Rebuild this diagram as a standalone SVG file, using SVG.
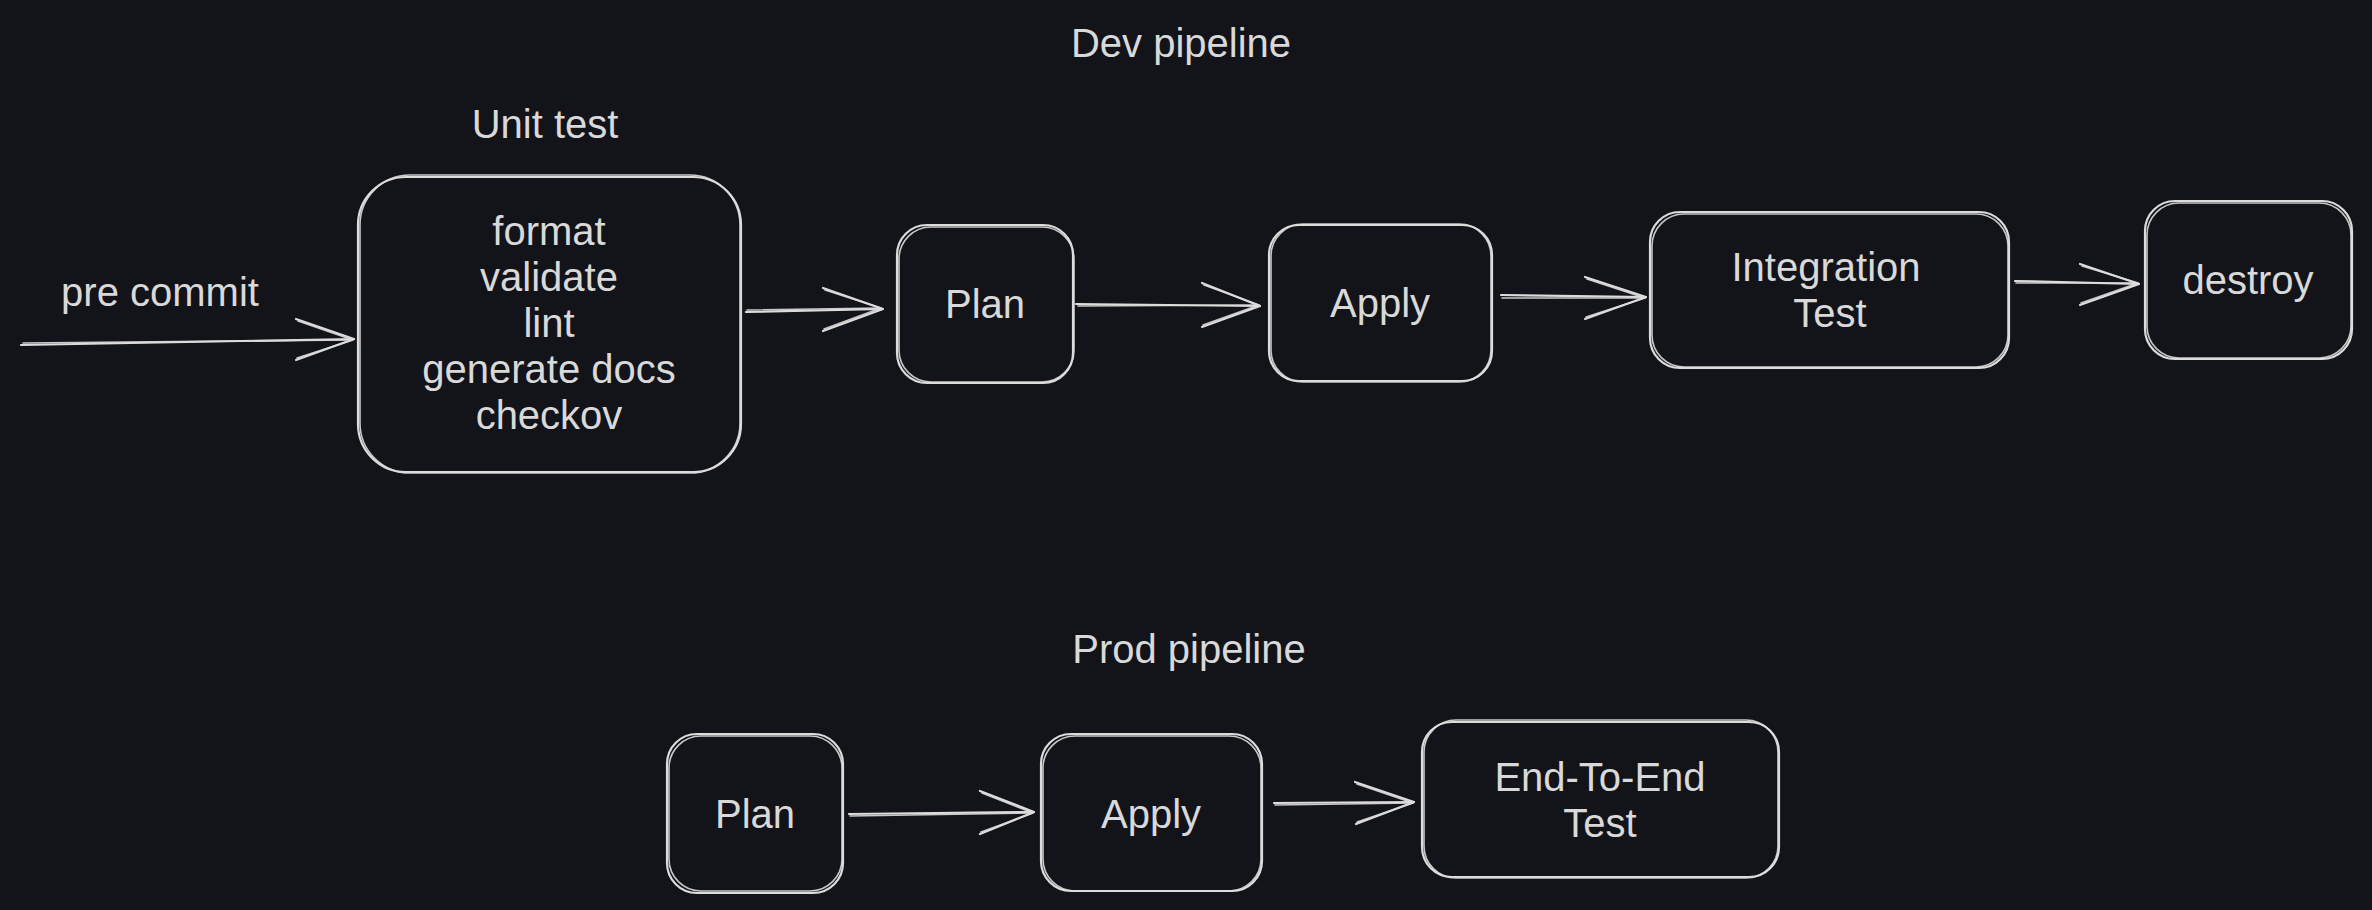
<svg xmlns="http://www.w3.org/2000/svg" width="2372" height="910" viewBox="0 0 2372 910">
<style>
.bg{fill:#121419}
.s{fill:none;stroke:#dcdcdc;stroke-width:2.2;stroke-linecap:round;stroke-linejoin:round}
.s2{fill:none;stroke:#dcdcdc;stroke-width:1.6;stroke-linecap:round;stroke-linejoin:round;opacity:0.9}
.t{font-family:"Liberation Sans",Arial,Helvetica,sans-serif;font-size:40px;fill:#d9d9d9;text-anchor:middle}
</style>
<rect class="bg" x="0" y="0" width="2372" height="910"/>

<g id="title-dev"><text class="t" x="1181" y="57">Dev pipeline</text></g>
<g id="title-unit"><text class="t" x="545" y="138">Unit test</text></g>
<g id="label-precommit"><text class="t" x="160" y="306">pre commit</text></g>
<g id="title-prod"><text class="t" x="1189" y="663">Prod pipeline</text></g>

<g id="node-unittest">
<rect class="s" x="358" y="177" width="383" height="295" rx="48"/>
<rect class="s2" x="360" y="175" width="380" height="298" rx="50"/>
<text class="t" x="549" y="245">format</text>
<text class="t" x="549" y="291">validate</text>
<text class="t" x="549" y="337">lint</text>
<text class="t" x="549" y="383">generate docs</text>
<text class="t" x="549" y="429">checkov</text>
</g>

<g id="node-plan">
<rect class="s" x="897" y="225" width="176" height="158" rx="30"/>
<rect class="s2" x="899" y="227" width="175" height="155" rx="32"/>
<text class="t" x="985" y="318">Plan</text>
</g>

<g id="node-apply">
<rect class="s" x="1269" y="225" width="223" height="156" rx="30"/>
<rect class="s2" x="1271" y="224" width="220" height="158" rx="32"/>
<text class="t" x="1380" y="317">Apply</text>
</g>

<g id="node-integration">
<rect class="s" x="1650" y="212" width="359" height="156" rx="30"/>
<rect class="s2" x="1652" y="214" width="356" height="153" rx="32"/>
<text class="t" x="1826" y="281">Integration</text>
<text class="t" x="1830" y="327">Test</text>
</g>

<g id="node-destroy">
<rect class="s" x="2145" y="201" width="207" height="158" rx="30"/>
<rect class="s2" x="2147" y="203" width="204" height="155" rx="32"/>
<text class="t" x="2248" y="294">destroy</text>
</g>

<g id="node-prod-plan">
<rect class="s" x="667" y="734" width="176" height="159" rx="30"/>
<rect class="s2" x="669" y="736" width="173" height="155" rx="32"/>
<text class="t" x="755" y="828">Plan</text>
</g>

<g id="node-prod-apply">
<rect class="s" x="1041" y="734" width="221" height="157" rx="30"/>
<rect class="s2" x="1043" y="736" width="218" height="155" rx="32"/>
<text class="t" x="1151" y="828">Apply</text>
</g>

<g id="node-e2e">
<rect class="s" x="1422" y="722" width="357" height="155" rx="30"/>
<rect class="s2" x="1424" y="720" width="354" height="158" rx="32"/>
<text class="t" x="1600" y="791">End-To-End</text>
<text class="t" x="1600" y="837">Test</text>
</g>

<g id="connectors">
<!-- pre commit -> unit test -->
<path class="s" d="M21 345 L354 339"/>
<path class="s2" d="M23 343 L352 340"/>
<path class="s" d="M296 319 L354 339 L296 360"/>
<path class="s2" d="M298 321 L353 340 L297 358"/>
<!-- unit test -> plan -->
<path class="s" d="M746 312 L882 309"/>
<path class="s2" d="M747 310 L881 308"/>
<path class="s" d="M823 288 L883 309 L823 331"/>
<path class="s2" d="M825 290 L881 308 L824 329"/>
<!-- plan -> apply -->
<path class="s" d="M1076 304 L1260 306"/>
<path class="s2" d="M1078 306 L1259 305"/>
<path class="s" d="M1202 283 L1260 306 L1202 327"/>
<path class="s2" d="M1204 285 L1259 305 L1203 325"/>
<!-- apply -> integration -->
<path class="s" d="M1501 295 L1646 297"/>
<path class="s2" d="M1502 298 L1645 298"/>
<path class="s" d="M1585 277 L1646 297 L1585 319"/>
<path class="s2" d="M1587 279 L1645 298 L1586 317"/>
<!-- integration -> destroy -->
<path class="s" d="M2015 281 L2139 284"/>
<path class="s2" d="M2016 283 L2138 283"/>
<path class="s" d="M2080 264 L2139 284 L2080 305"/>
<path class="s2" d="M2082 266 L2138 283 L2081 303"/>
<!-- prod plan -> prod apply -->
<path class="s" d="M849 814 L1033 812"/>
<path class="s2" d="M850 816 L1032 813"/>
<path class="s" d="M980 791 L1034 812 L980 834"/>
<path class="s2" d="M982 793 L1033 813 L981 832"/>
<!-- prod apply -> e2e -->
<path class="s" d="M1274 803 L1414 802"/>
<path class="s2" d="M1275 805 L1413 803"/>
<path class="s" d="M1355 782 L1414 802 L1356 824"/>
<path class="s2" d="M1357 784 L1413 803 L1357 822"/>
</g>
</svg>
